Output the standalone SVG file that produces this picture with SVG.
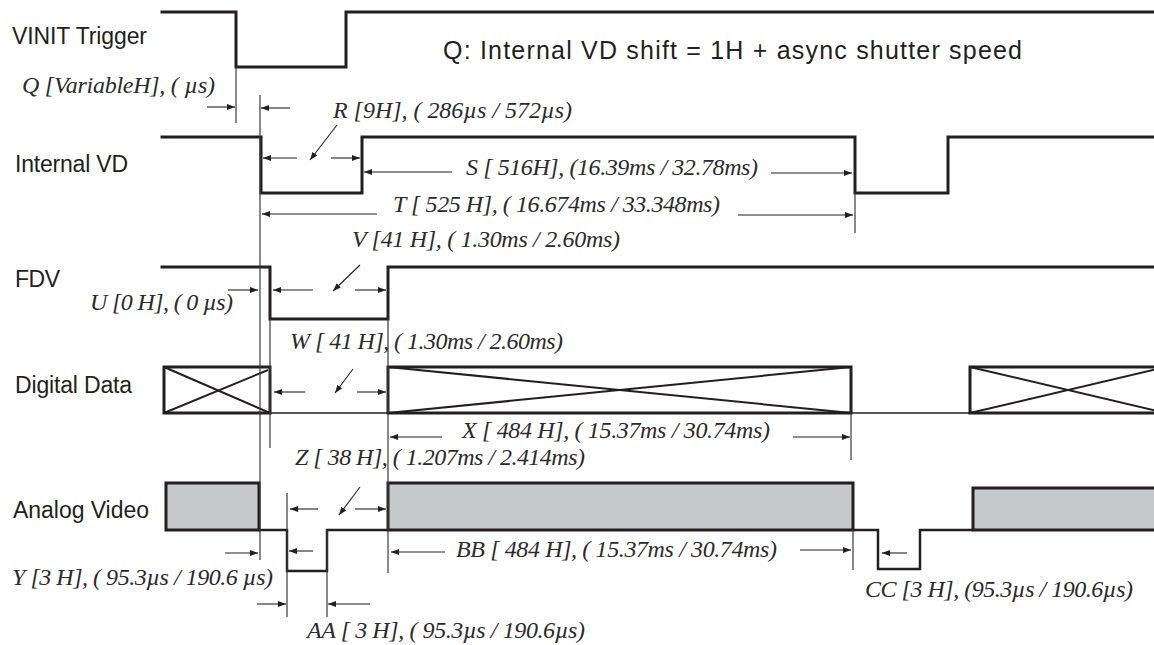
<svg xmlns="http://www.w3.org/2000/svg" width="1154" height="645" viewBox="0 0 1154 645">
<style>
.sig{fill:none;stroke:#231f20;stroke-width:3;stroke-linejoin:miter;stroke-linecap:square}
.sig2{fill:none;stroke:#231f20;stroke-width:2.5;stroke-linejoin:miter}
.thin{fill:none;stroke:#231f20;stroke-width:1.3}
.guide{fill:none;stroke:#3a3a3a;stroke-width:1.2}
.box{fill:none;stroke:#231f20;stroke-width:3}
.gbox{fill:#c7c8ca;stroke:#231f20;stroke-width:3}
.diag{stroke:#231f20;stroke-width:2;fill:none}
.dim{stroke:#231f20;stroke-width:1.1;fill:none;marker-end:url(#ah)}
.lbl{font-family:"Liberation Sans",Arial,sans-serif;font-size:23px;fill:#231f20}
.ttl{font-family:"Liberation Sans",Arial,sans-serif;font-size:25px;fill:#231f20}
.it{font-family:"Liberation Serif","Times New Roman",serif;font-style:italic;font-size:24px;fill:#2b2b2b}
</style>
<defs>
<marker id="ah" markerUnits="userSpaceOnUse" markerWidth="8" markerHeight="6" refX="8" refY="3" orient="auto">
<path d="M0,0 L8,3 L0,6 z" fill="#231f20"/>
</marker>
</defs>
<rect width="1154" height="645" fill="#ffffff"/>

<g id="vinit">
<path class="sig" d="M162,12 H236 V67 H346 V12 H1154"/>
<text class="lbl" x="12" y="44" textLength="135">VINIT Trigger</text>
</g>

<g id="title">
<text class="ttl" x="443" y="59" textLength="579">Q: Internal VD shift = 1H + async shutter speed</text>
</g>

<g id="internal-vd">
<path class="sig" d="M162,137 H261 V193 H362 V137 H855 V193 H948 V137 H1154"/>
<text class="lbl" x="15" y="172" textLength="113">Internal VD</text>
</g>

<g id="fdv">
<path class="sig" d="M162,267 H270 V319 H388 V267 H1154"/>
<text class="lbl" x="15" y="287" textLength="45">FDV</text>
</g>

<g id="digital-data">
<rect class="box" x="164" y="367" width="106" height="46"/>
<line class="diag" x1="164" y1="367" x2="270" y2="413"/>
<line class="diag" x1="164" y1="413" x2="268" y2="370"/>
<line class="thin" x1="270" y1="413" x2="388" y2="413"/>
<rect class="box" x="388" y="367" width="463" height="46"/>
<line class="diag" x1="388" y1="367" x2="851" y2="413"/>
<line class="diag" x1="388" y1="413" x2="851" y2="367"/>
<line class="thin" x1="851" y1="413" x2="970" y2="413"/>
<rect class="box" x="970" y="367" width="196" height="46"/>
<line class="diag" x1="970" y1="367" x2="1166" y2="413"/>
<line class="diag" x1="970" y1="413" x2="1166" y2="367"/>
<text class="lbl" x="15" y="393" textLength="117">Digital Data</text>
</g>

<g id="analog-video">
<rect class="gbox" x="166" y="483" width="93" height="47"/>
<path class="sig2" d="M259,530 H287 V571 H327 V530 H388"/>
<rect class="gbox" x="388" y="483" width="465" height="47"/>
<path class="sig2" d="M853,530 H878 V569 H920 V530 H973"/>
<rect class="gbox" x="973" y="488" width="200" height="42"/>
<text class="lbl" x="13" y="518" textLength="136">Analog Video</text>
</g>

<g id="guides">
<line class="guide" x1="236" y1="67" x2="236" y2="123"/>
<line class="guide" x1="260" y1="95" x2="260" y2="560"/>
<line class="guide" x1="270" y1="319" x2="270" y2="448"/>
<line class="guide" x1="388" y1="319" x2="388" y2="573"/>
<line class="guide" x1="855" y1="193" x2="855" y2="233"/>
<line class="guide" x1="851" y1="413" x2="851" y2="460"/>
<line class="guide" x1="853" y1="530" x2="853" y2="570"/>
<line class="guide" x1="287" y1="493" x2="287" y2="617"/>
<line class="guide" x1="327" y1="530" x2="327" y2="617"/>
</g>

<g id="connectors">
<line class="dim" x1="207" y1="107" x2="235" y2="107"/>
<line class="dim" x1="290" y1="108" x2="261" y2="108"/>
<line class="dim" x1="297" y1="158" x2="263" y2="158"/>
<line class="dim" x1="331" y1="158" x2="360" y2="158"/>
<line class="dim" x1="337" y1="125" x2="310" y2="160"/>
<line class="dim" x1="452" y1="172" x2="364" y2="172"/>
<line class="dim" x1="771" y1="173" x2="852" y2="173"/>
<line class="dim" x1="377" y1="214" x2="262" y2="214"/>
<line class="dim" x1="738" y1="215" x2="853" y2="215"/>
<line class="dim" x1="228" y1="290" x2="258" y2="290"/>
<line class="dim" x1="313" y1="290" x2="273" y2="290"/>
<line class="dim" x1="355" y1="290" x2="386" y2="290"/>
<line class="dim" x1="360" y1="265" x2="333" y2="291"/>
<line class="dim" x1="305" y1="392" x2="274" y2="392"/>
<line class="dim" x1="357" y1="392" x2="386" y2="392"/>
<line class="dim" x1="353" y1="369" x2="335" y2="393"/>
<line class="dim" x1="442" y1="437" x2="390" y2="437"/>
<line class="dim" x1="793" y1="437" x2="850" y2="437"/>
<line class="dim" x1="318" y1="509" x2="290" y2="509"/>
<line class="dim" x1="355" y1="509" x2="386" y2="509"/>
<line class="dim" x1="360" y1="487" x2="339" y2="515"/>
<line class="dim" x1="225" y1="553" x2="258" y2="553"/>
<line class="dim" x1="313" y1="551" x2="289" y2="551"/>
<line class="dim" x1="257" y1="604" x2="286" y2="604"/>
<line class="dim" x1="370" y1="604" x2="328" y2="604"/>
<line class="dim" x1="445" y1="552" x2="391" y2="552"/>
<line class="dim" x1="800" y1="550" x2="851" y2="550"/>
<line class="dim" x1="907" y1="553" x2="882" y2="553"/>
</g>

<g id="labels">
<text class="it" x="22" y="93" textLength="193">Q [VariableH], (  µs)</text>
<text class="it" x="333" y="118" textLength="239">R [9H], ( 286µs / 572µs)</text>
<text class="it" x="466" y="175" textLength="292">S [ 516H], (16.39ms / 32.78ms)</text>
<text class="it" x="393" y="212" textLength="327">T [ 525 H], ( 16.674ms / 33.348ms)</text>
<text class="it" x="352" y="247" textLength="268">V [41 H], ( 1.30ms /  2.60ms)</text>
<text class="it" x="90" y="310" textLength="143">U [0 H], ( 0 µs)</text>
<text class="it" x="290" y="349" textLength="273">W [ 41 H], ( 1.30ms / 2.60ms)</text>
<text class="it" x="462" y="438" textLength="308">X [ 484 H], ( 15.37ms / 30.74ms)</text>
<text class="it" x="295" y="465" textLength="290">Z [ 38 H], ( 1.207ms / 2.414ms)</text>
<text class="it" x="12" y="585" textLength="261">Y [3 H], ( 95.3µs / 190.6 µs)</text>
<text class="it" x="307" y="638" textLength="278">AA [ 3 H], ( 95.3µs / 190.6µs)</text>
<text class="it" x="456" y="557" textLength="321">BB [ 484 H], ( 15.37ms / 30.74ms)</text>
<text class="it" x="865" y="597" textLength="268">CC [3 H], (95.3µs / 190.6µs)</text>
</g>
</svg>
